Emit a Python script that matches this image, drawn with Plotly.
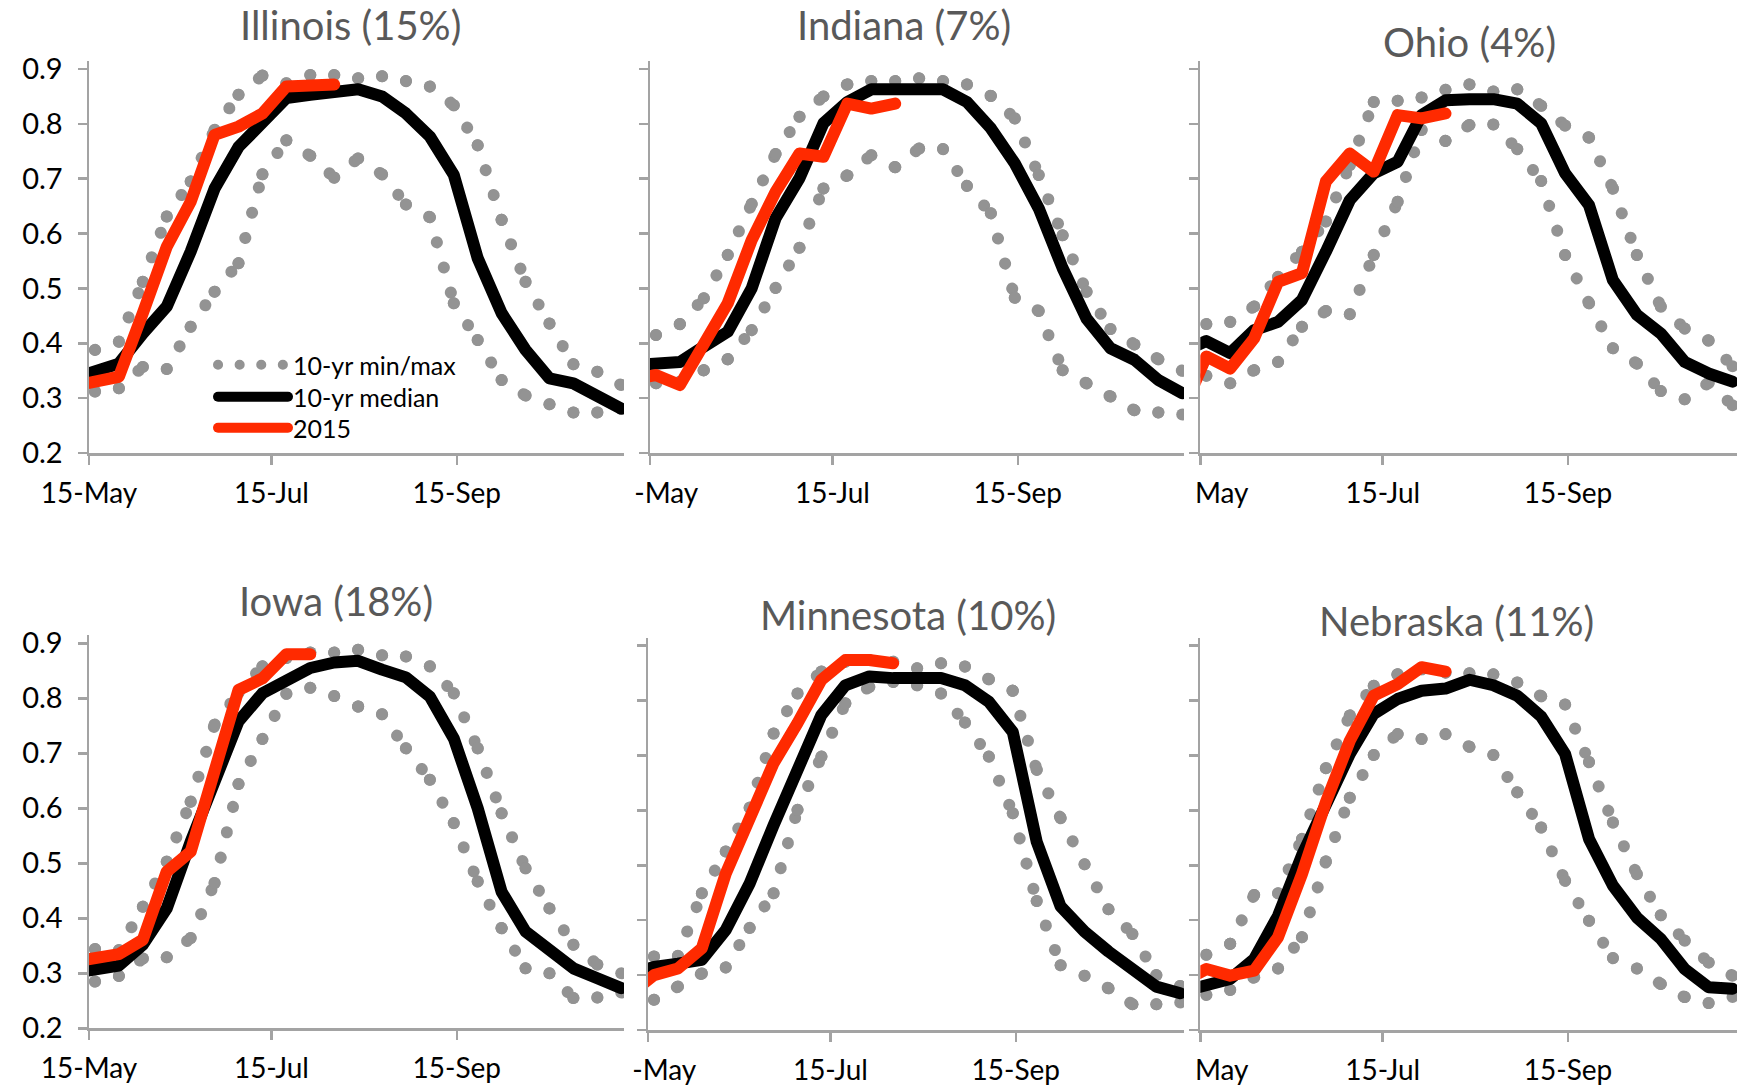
import plotly.graph_objects as go

# 8-day composite periods (day of year); first one lies just before the axis start
doy = [129, 137, 145, 153, 161, 169, 177, 185, 193, 201, 209, 217,
       225, 233, 241, 249, 257, 265, 273, 281, 289, 297, 305, 313]

tick_doy = [135, 196, 258]
tick_text = ["15-May", "15-Jul", "15-Sep"]

states = ["Illinois (15%)", "Indiana (7%)", "Ohio (4%)",
          "Iowa (18%)", "Minnesota (10%)", "Nebraska (11%)"]

illinois_max = [0.38, 0.388, 0.403, 0.512, 0.631, 0.695, 0.789, 0.853, 0.888, 0.874, 0.889, 0.889,
                0.883, 0.887, 0.878, 0.868, 0.834, 0.761, 0.625, 0.512, 0.436, 0.362, 0.348, 0.324]
illinois_min = [0.31, 0.312, 0.318, 0.357, 0.353, 0.430, 0.494, 0.546, 0.708, 0.770, 0.742, 0.702,
                0.737, 0.708, 0.653, 0.630, 0.473, 0.406, 0.333, 0.305, 0.289, 0.274, 0.274, 0.28]
illinois_med = [0.335, 0.348, 0.363, 0.418, 0.467, 0.567, 0.682, 0.758, 0.801, 0.847, 0.853, 0.857,
                0.863, 0.850, 0.819, 0.777, 0.707, 0.555, 0.455, 0.388, 0.336, 0.327, 0.303, 0.281]
illinois_2015 = [0.321, 0.329, 0.339, 0.455, 0.576, 0.658, 0.780, 0.795, 0.819, 0.868, 0.872, 0.872]

indiana_max = [0.41, 0.415, 0.435, 0.482, 0.561, 0.654, 0.745, 0.813, 0.850, 0.872, 0.878, 0.878,
               0.883, 0.878, 0.872, 0.851, 0.810, 0.707, 0.597, 0.494, 0.426, 0.398, 0.371, 0.35]
indiana_min = [0.325, 0.327, 0.33, 0.351, 0.371, 0.424, 0.501, 0.574, 0.682, 0.706, 0.743, 0.721,
               0.755, 0.754, 0.687, 0.637, 0.483, 0.459, 0.351, 0.327, 0.303, 0.278, 0.274, 0.27]
indiana_med = [0.36, 0.362, 0.366, 0.394, 0.421, 0.500, 0.628, 0.701, 0.801, 0.840, 0.863, 0.863,
               0.863, 0.863, 0.840, 0.792, 0.728, 0.646, 0.537, 0.445, 0.391, 0.370, 0.333, 0.309]
indiana_2015 = [0.335, 0.342, 0.324, 0.400, 0.473, 0.588, 0.676, 0.746, 0.740, 0.837, 0.828, 0.837]

ohio_max = [0.43, 0.435, 0.439, 0.467, 0.521, 0.567, 0.622, 0.725, 0.840, 0.842, 0.848, 0.862,
            0.872, 0.859, 0.863, 0.833, 0.797, 0.775, 0.682, 0.561, 0.467, 0.427, 0.405, 0.358]
ohio_min = [0.35, 0.341, 0.327, 0.351, 0.366, 0.430, 0.459, 0.453, 0.561, 0.658, 0.789, 0.769,
            0.798, 0.799, 0.754, 0.696, 0.561, 0.473, 0.391, 0.363, 0.313, 0.298, 0.328, 0.287]
ohio_med = [0.385, 0.404, 0.382, 0.424, 0.439, 0.479, 0.567, 0.661, 0.710, 0.731, 0.816, 0.843,
            0.845, 0.845, 0.837, 0.801, 0.710, 0.652, 0.515, 0.452, 0.418, 0.366, 0.345, 0.330]
ohio_2015 = [0.275, 0.376, 0.354, 0.409, 0.512, 0.528, 0.695, 0.746, 0.713, 0.816, 0.810, 0.819]

iowa_max = [0.34, 0.344, 0.342, 0.421, 0.503, 0.612, 0.752, 0.81, 0.858, 0.873, 0.883, 0.883,
            0.888, 0.878, 0.876, 0.858, 0.809, 0.709, 0.591, 0.491, 0.418, 0.352, 0.316, 0.30]
iowa_min = [0.28, 0.285, 0.295, 0.327, 0.329, 0.364, 0.464, 0.644, 0.726, 0.808, 0.819, 0.804,
            0.785, 0.771, 0.709, 0.652, 0.573, 0.467, 0.382, 0.309, 0.300, 0.255, 0.256, 0.265]
iowa_med = [0.30, 0.305, 0.314, 0.352, 0.418, 0.539, 0.642, 0.758, 0.809, 0.833, 0.855, 0.865,
            0.868, 0.852, 0.838, 0.803, 0.727, 0.600, 0.448, 0.376, 0.342, 0.309, 0.291, 0.273]
iowa_2015 = [0.32, 0.325, 0.335, 0.361, 0.485, 0.521, 0.667, 0.815, 0.836, 0.880, 0.880]

minnesota_max = [0.33, 0.334, 0.335, 0.449, 0.525, 0.605, 0.740, 0.813, 0.853, 0.871, 0.874, 0.871,
                 0.859, 0.868, 0.862, 0.839, 0.818, 0.674, 0.586, 0.502, 0.420, 0.375, 0.300, 0.28]
minnesota_min = [0.25, 0.255, 0.279, 0.303, 0.314, 0.386, 0.449, 0.601, 0.698, 0.795, 0.825, 0.834,
                 0.828, 0.813, 0.760, 0.698, 0.595, 0.435, 0.318, 0.299, 0.276, 0.247, 0.247, 0.25]
minnesota_med = [0.30, 0.315, 0.321, 0.328, 0.382, 0.467, 0.573, 0.680, 0.774, 0.828, 0.844, 0.841,
                 0.841, 0.841, 0.828, 0.798, 0.743, 0.543, 0.425, 0.379, 0.343, 0.309, 0.279, 0.267]
minnesota_2015 = [0.265, 0.300, 0.312, 0.349, 0.485, 0.589, 0.686, 0.759, 0.838, 0.874, 0.874, 0.868]

nebraska_max = [0.33, 0.337, 0.357, 0.446, 0.449, 0.548, 0.677, 0.773, 0.827, 0.848, 0.857, 0.851,
                0.850, 0.848, 0.833, 0.808, 0.793, 0.688, 0.578, 0.484, 0.409, 0.363, 0.323, 0.299]
nebraska_min = [0.26, 0.264, 0.273, 0.296, 0.312, 0.369, 0.507, 0.623, 0.701, 0.739, 0.730, 0.739,
                0.716, 0.701, 0.633, 0.569, 0.472, 0.399, 0.331, 0.312, 0.284, 0.260, 0.249, 0.26]
nebraska_med = [0.27, 0.284, 0.293, 0.329, 0.408, 0.518, 0.609, 0.703, 0.776, 0.803, 0.818, 0.822,
                0.838, 0.828, 0.809, 0.771, 0.703, 0.548, 0.463, 0.405, 0.366, 0.311, 0.278, 0.275]
nebraska_2015 = [0.288, 0.311, 0.299, 0.308, 0.369, 0.484, 0.615, 0.727, 0.809, 0.830, 0.861, 0.853]

panel_data = [
    (illinois_max, illinois_min, illinois_med, illinois_2015),
    (indiana_max, indiana_min, indiana_med, indiana_2015),
    (ohio_max, ohio_min, ohio_med, ohio_2015),
    (iowa_max, iowa_min, iowa_med, iowa_2015),
    (minnesota_max, minnesota_min, minnesota_med, minnesota_2015),
    (nebraska_max, nebraska_min, nebraska_med, nebraska_2015),
]

# ---- layout geometry (pixels in the 1745x1092 page) ----
W, H = 1745, 1092
PX_PER_DAY = 2.99
x_px = [(89, 624), (650, 1184), (1200.3, 1737), (89, 624), (648, 1184), (1200.3, 1737)]
y_px = [(60.8, 453), (60.8, 453), (60.8, 453), (635, 1028.3), (637.5, 1030), (637.5, 1030)]
title_pos = [(350, 25), (904, 25), (1469, 42), (336, 601), (908, 615), (1456, 621)]
legend_y = [365, 397, 428]
LEGEND_X = 213

GRAY_DOT = "#939393"
RED = "#ff2a00"
AXIS_GRAY = "#a3a3a3"
FONT = "Lato"
DOT_DASH = "0.1px,26px"
LINE_W = 12
DOT_W = 12


def segmented(xs, ys):
    """Split a series into its individual segments so the dot pattern restarts at
    every data point (as the original spreadsheet chart does)."""
    sx, sy = [], []
    for a in range(len(xs) - 1):
        sx += [xs[a], xs[a + 1], None]
        sy += [ys[a], ys[a + 1], None]
    return sx, sy


hidden = "<span style='color:#ffffff'>"
first_labels = ["15-May", hidden + "15</span>-May", hidden + "15-</span>May",
                "15-May", hidden + "15</span>-May", hidden + "15-</span>May"]

fig = go.Figure()
layout_axes = {}
for i in range(6):
    mx, mn, md, y15 = panel_data[i]
    ax = "" if i == 0 else str(i + 1)
    xref, yref = "x" + ax, "y" + ax
    show = (i == 0)
    for j, series in enumerate((mx, mn)):
        sx, sy = segmented(doy, series)
        fig.add_trace(go.Scatter(x=sx, y=sy, mode="lines", xaxis=xref, yaxis=yref,
                                 line=dict(color=GRAY_DOT, width=DOT_W, dash=DOT_DASH),
                                 connectgaps=False,
                                 name="10-yr min/max", legend="legend",
                                 showlegend=(show and j == 0), hoverinfo="skip"))
        fig.add_trace(go.Scatter(x=doy, y=series, mode="markers", xaxis=xref, yaxis=yref,
                                 marker=dict(color=GRAY_DOT, size=DOT_W, line=dict(width=0)),
                                 showlegend=False, hoverinfo="skip"))
    fig.add_trace(go.Scatter(x=doy, y=md, mode="lines", xaxis=xref, yaxis=yref,
                             line=dict(color="#000000", width=LINE_W),
                             name="10-yr median", legend="legend2", showlegend=show,
                             hoverinfo="skip"))
    fig.add_trace(go.Scatter(x=doy[:len(y15)], y=y15, mode="lines", xaxis=xref, yaxis=yref,
                             line=dict(color=RED, width=LINE_W),
                             name="2015", legend="legend3", showlegend=show,
                             hoverinfo="skip"))

    x0, x1 = x_px[i]
    ytop, ybot = y_px[i]
    xr_end = 135 + (x1 - x0) / PX_PER_DAY
    layout_axes["xaxis" + ax] = dict(
        domain=[x0 / W, x1 / W], range=[135, xr_end], anchor=yref, automargin=False,
        tickmode="array", tickvals=tick_doy,
        ticktext=[first_labels[i]] + tick_text[1:],
        showline=True, linecolor=AXIS_GRAY, linewidth=2.5,
        ticks="outside", ticklen=9, tickwidth=2.5, tickcolor=AXIS_GRAY,
        showgrid=False, zeroline=False, fixedrange=True,
        tickfont=dict(family=FONT, size=28, color="#000000"),
        ticklabelstandoff=5,
    )
    layout_axes["yaxis" + ax] = dict(
        domain=[1 - ybot / H, 1 - ytop / H], range=[0.2, 0.915], anchor=xref, automargin=False,
        tickmode="array", tickvals=[0.2, 0.3, 0.4, 0.5, 0.6, 0.7, 0.8, 0.9],
        tickformat=".1f", showticklabels=(i % 3 == 0),
        showline=True, linecolor=AXIS_GRAY, linewidth=2.5,
        ticks="outside", ticklen=9, tickwidth=2.5, tickcolor=AXIS_GRAY,
        showgrid=False, zeroline=False, fixedrange=True,
        tickfont=dict(family=FONT, size=29, color="#000000"),
        ticklabelstandoff=9,
    )

annotations = []
for name, (tx, ty) in zip(states, title_pos):
    annotations.append(dict(text=name, x=tx / W, y=1 - ty / H, xref="paper", yref="paper",
                            xanchor="center", yanchor="middle", showarrow=False,
                            font=dict(family=FONT, size=40, color="#595959")))

legends = {}
for j, ly in enumerate(legend_y):
    key = "legend" if j == 0 else "legend" + str(j + 1)
    legends[key] = dict(x=LEGEND_X / W, y=1 - ly / H, xanchor="left", yanchor="middle",
                        bgcolor="rgba(0,0,0,0)", borderwidth=0, itemwidth=70,
                        tracegroupgap=0, font=dict(family=FONT, size=25, color="#000000"))

fig.update_layout(
    template="none",
    width=W, height=H, margin=dict(l=0, r=0, t=0, b=0, pad=0, autoexpand=False),
    paper_bgcolor="white", plot_bgcolor="white",
    font=dict(family=FONT, color="#000000"),
    showlegend=True,
    annotations=annotations,
    **legends,
    **layout_axes,
)

post = """
document.body.style.margin = '0';
document.body.style.padding = '0';
document.body.style.overflow = 'hidden';
var gd = document.getElementById('{plot_id}');
gd.querySelectorAll('path.js-line').forEach(function(p){
  p.style.strokeLinecap = 'round';
  p.style.strokeLinejoin = 'round';
});
gd.querySelectorAll('.legend path.js-line').forEach(function(p){
  var d = p.style.strokeDasharray || '';
  if (d.indexOf('26') >= 0) { p.style.strokeDasharray = '0.1px, 21.5px'; }
});
"""

fig.write_html("out.html", post_script=post, config={"staticPlot": True})
